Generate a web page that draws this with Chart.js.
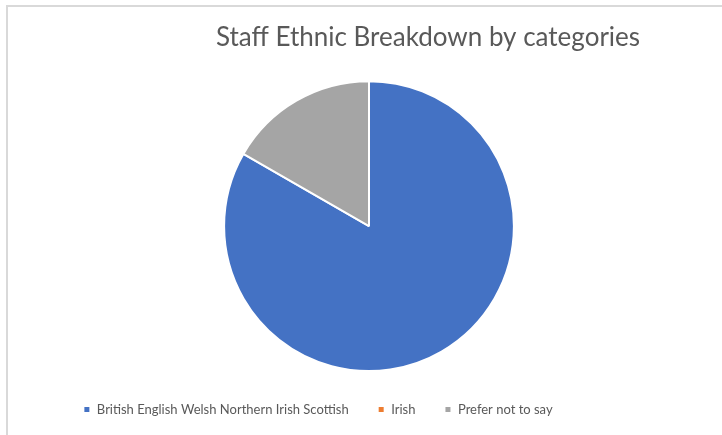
<!DOCTYPE html>
<html>
<head>
<meta charset="utf-8">
<script src="https://cdn.jsdelivr.net/npm/chart.js@4.4.1/dist/chart.umd.min.js"></script>
<style>
  html, body { margin: 0; padding: 0; background: #ffffff; }
  #wrap { position: relative; width: 722px; height: 435px; overflow: hidden; }
  #frame { position: absolute; left: 6px; top: 5px; width: 740px; height: 460px;
           border-left: 2px solid #d9d9d9; border-top: 2px solid #d9d9d9; box-sizing: border-box; }
  #c { position: absolute; left: 0; top: 0; }
</style>
</head>
<body>
<div id="wrap">
  <div id="frame"></div>
  <canvas id="c" width="722" height="435"></canvas>
</div>
<script>
const titleText = "Staff Ethnic Breakdown by categories";
const categories = ["British English Welsh Northern Irish Scottish", "Irish", "Prefer not to say"];
const values = [83.3, 0, 16.7];
const colors = ["#4472C4", "#ED7D31", "#A5A5A5"];

const FONT = "Lato, 'Open Sans', sans-serif";

// Reposition title and legend blocks (Excel places them off-centre)
const shiftBlocks = {
  id: 'shiftBlocks',
  afterLayout(chart) {
    const t = chart.titleBlock;
    if (t) {
      const dx = 428 - (t.left + t.right) / 2;
      t.left += dx; t.right += dx;
    }
    const l = chart.legend;
    if (l) {
      const dx = 318 - (l.left + l.right) / 2;
      l.left += dx; l.right += dx;
      const dy = 2;
      l.top += dy; l.bottom += dy;
    }
  }
};

new Chart(document.getElementById('c'), {
  type: 'pie',
  data: {
    labels: categories,
    datasets: [{
      data: values,
      backgroundColor: colors,
      borderColor: '#ffffff',
      borderWidth: 2
    }]
  },
  options: {
    responsive: false,
    animation: false,
    layout: { padding: { left: 16, right: 0, top: 0, bottom: 11 } },
    plugins: {
      title: {
        display: true,
        text: titleText,
        color: '#595959',
        font: { family: FONT, size: 26, weight: 'normal' },
        padding: { top: 22, bottom: 27 }
      },
      legend: {
        position: 'bottom',
        labels: {
          color: '#595959',
          font: { family: FONT, size: 13 },
          boxWidth: 7,
          boxHeight: 7,
          padding: 29
        }
      },
      tooltip: { enabled: false }
    }
  },
  plugins: [shiftBlocks]
});
</script>
</body>
</html>
